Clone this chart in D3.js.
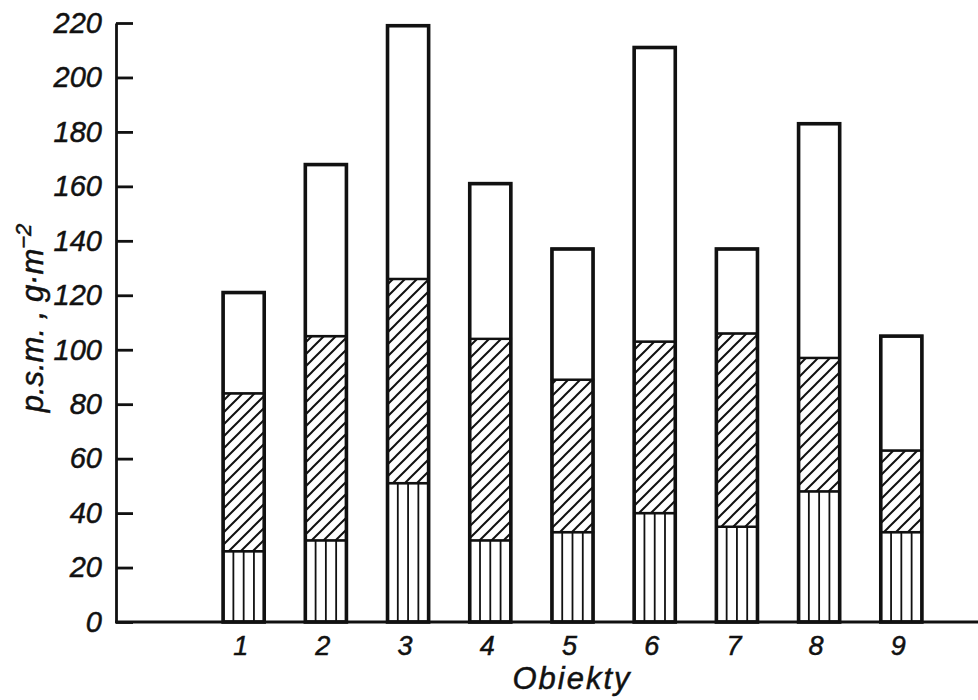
<!DOCTYPE html>
<html>
<head>
<meta charset="utf-8">
<script src="https://cdn.jsdelivr.net/npm/d3@7"></script>
<style>
  body { margin: 0; background: #fff; }
  text { font-family: "Liberation Sans", Arial, sans-serif; font-style: italic; fill: #111; stroke: #111; stroke-width: 0.5px; }
</style>
</head>
<body>
<svg id="chart" width="978" height="700"></svg>
<script>
// objects (x categories)
const objects = ["1", "2", "3", "4", "5", "6", "7", "8", "9"];
// stacked components, bottom -> top (g/m2)
const striped = [26, 30, 51, 30, 33, 40, 35, 48, 33];
const hatched = [58, 75, 75, 74, 56, 63, 71, 49, 30];
const plain   = [37, 63, 93, 57, 48, 108, 31, 86, 42];
const yTicks = [0, 20, 40, 60, 80, 100, 120, 140, 160, 180, 200, 220];

const padLeft = 116, padBottom = 622, padTop = 23, padRight = 978;

const svg = d3.select("#chart");

let rows = objects.map(function(o, i) {
  return { obj: o, striped: striped[i], hatched: hatched[i], plain: plain[i] };
});
const keys = ["striped", "hatched", "plain"];
const series = d3.stack().keys(keys)(rows);

let x = d3.scaleBand()
  .domain(objects)
  .range([182, 963])
  .paddingInner(0.5)
  .paddingOuter(0.5);

let y = d3.scaleLinear()
  .domain([0, 220])
  .range([padBottom, padTop]);

// diagonal hatch pattern
const defs = svg.append("defs");
const hp = defs.append("pattern")
  .attr("id", "hatch")
  .attr("patternUnits", "userSpaceOnUse")
  .attr("width", 12)
  .attr("height", 12);
hp.append("rect").attr("width", 12).attr("height", 12).attr("fill", "#fff");
hp.append("path")
  .attr("d", "M0,12 L12,0 M-3,3 L3,-3 M9,15 L15,9")
  .attr("stroke", "#111").attr("stroke-width", 2);

const fills = { striped: "#fff", hatched: "url(#hatch)", plain: "#fff" };

// segments
svg.append("g")
  .selectAll("g")
  .data(series)
  .enter()
  .append("g")
  .attr("fill", function(s) { return fills[s.key]; })
  .selectAll("rect")
  .data(function(s) { return s; })
  .enter()
  .append("rect")
  .attr("x", function(d) { return x(d.data.obj); })
  .attr("width", x.bandwidth())
  .attr("y", function(d) { return y(d[1]); })
  .attr("height", function(d) { return y(d[0]) - y(d[1]); })
  .attr("stroke", "#111")
  .attr("stroke-width", 2.4);

// vertical stripes inside the bottom segment: 3 lines per bar
const stripeIdx = [1, 2, 3];
svg.append("g")
  .selectAll("g")
  .data(series[0])
  .enter()
  .append("g")
  .selectAll("line")
  .data(function(d) {
    return stripeIdx.map(function(k) { return { d: d, k: k }; });
  })
  .enter()
  .append("line")
  .attr("x1", function(s) { return x(s.d.data.obj) + s.k * x.bandwidth() / 4; })
  .attr("x2", function(s) { return x(s.d.data.obj) + s.k * x.bandwidth() / 4; })
  .attr("y1", function(s) { return y(s.d[0]); })
  .attr("y2", function(s) { return y(s.d[1]); })
  .attr("stroke", "#111")
  .attr("stroke-width", 1.8);

// outer outline of each bar
svg.append("g")
  .selectAll("rect")
  .data(series[series.length - 1])
  .enter()
  .append("rect")
  .attr("x", function(d) { return x(d.data.obj); })
  .attr("width", x.bandwidth())
  .attr("y", function(d) { return y(d[1]); })
  .attr("height", function(d) { return y(0) - y(d[1]); })
  .attr("fill", "none")
  .attr("stroke", "#111")
  .attr("stroke-width", 3.6);

// y axis, ticks pointing inward
const yAxis = d3.axisLeft(y)
  .tickValues(yTicks)
  .tickSizeInner(-17)
  .tickSizeOuter(0)
  .tickPadding(14);

const yg = svg.append("g")
  .attr("transform", "translate(" + padLeft + ",0)")
  .call(yAxis);
yg.select(".domain").attr("stroke", "#111").attr("stroke-width", 2.8);
yg.selectAll(".tick line").attr("stroke", "#111").attr("stroke-width", 2.8);
yg.selectAll(".tick text")
  .attr("font-size", 29)
  .attr("font-family", null)
  .attr("fill", "#111");

// x axis baseline across to the right edge
svg.append("line")
  .attr("x1", padLeft - 1).attr("x2", padRight)
  .attr("y1", y(0)).attr("y2", y(0))
  .attr("stroke", "#111").attr("stroke-width", 2.8);

const xAxis = d3.axisBottom(x).tickSize(0).tickPadding(14);
const xg = svg.append("g")
  .attr("transform", "translate(-3," + padBottom + ")")
  .call(xAxis);
xg.select(".domain").remove();
xg.selectAll(".tick text")
  .attr("font-size", 27)
  .attr("font-family", null)
  .attr("fill", "#111");

// axis titles
svg.append("text")
  .attr("x", 572)
  .attr("y", 689)
  .attr("text-anchor", "middle")
  .attr("font-size", 31)
  .attr("letter-spacing", 2)
  .text("Obiekty");

const yl = svg.append("text")
  .attr("transform", "translate(43,318) rotate(-90)")
  .attr("text-anchor", "middle")
  .attr("font-size", 31);
yl.append("tspan").text("p.s.m. , g\u00b7m");
yl.append("tspan")
  .attr("dy", -12)
  .attr("font-size", 22)
  .text("\u22122");
</script>
</body>
</html>
